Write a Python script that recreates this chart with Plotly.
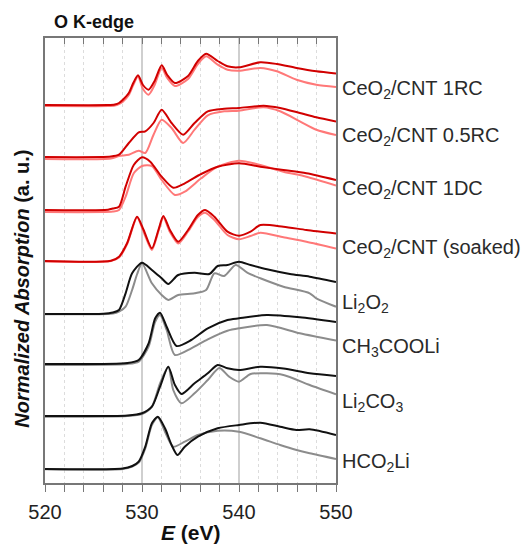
import plotly.graph_objects as go

# ---------------- data (heights above each spectrum's baseline, a.u.) ----------------
LABELS = ["CeO<sub>2</sub>/CNT 1RC", "CeO<sub>2</sub>/CNT 0.5RC", "CeO<sub>2</sub>/CNT 1DC",
          "CeO<sub>2</sub>/CNT (soaked)", "Li<sub>2</sub>O<sub>2</sub>", "CH<sub>3</sub>COOLi",
          "Li<sub>2</sub>CO<sub>3</sub>", "HCO<sub>2</sub>Li"]
OFFSETS = [378, 326, 273, 222, 169, 119, 67, 14]
LABEL_Y = [394, 347, 294, 235, 180, 136, 81, 21]

E_1RC_A = [520, 526.5, 527.2, 527.63, 528.0, 528.64, 529.1, 529.59, 530.1, 530.68, 531.3, 532.03, 532.6,
           533.39, 534.75, 535.76, 536.61, 537.8, 538.81, 540, 542.2, 543.9, 545.93, 547.97, 550]
Y_1RC_A = [0, 0, 0.5, 2, 5, 12, 22, 29.7, 20, 15.3, 24, 39.7, 30,
           22, 29, 44, 51.3, 44, 38.7, 37.7, 42.7, 41, 37, 33.7, 31.5]
Y_1RC_B = [-1, -1, -0.5, 1, 3, 10, 20, 28.5, 16, 10.3, 20, 37, 27,
           19, 26, 41, 48.7, 40.3, 35.3, 34.3, 37, 33.7, 25.3, 20.3, 18]

E_05RC = [520, 526.8, 527.63, 528.64, 529.66, 530.34, 531.19, 532.03, 533.05, 534.24, 535.42, 536.78,
          538.47, 540, 542.54, 544.24, 546.27, 547.97, 550]
Y_05RC_A = [0, 0.5, 2.3, 14, 24.7, 25.7, 34, 47.3, 34, 22.3, 34, 45.7,
            48.3, 49, 51.3, 49, 44, 39.7, 35.5]
Y_05RC_B = [-2, -1.5, 1, 2.3, 6.3, 4, 22.3, 37.3, 29, 14, 27.3, 41.7,
            45.7, 46.3, 49.7, 45.7, 35.7, 27.3, 22]

E_1DC_A = [520, 526.5, 527.0, 527.63, 528.31, 529.15, 530, 530.85, 532.03, 533.22, 534.41, 536.1,
           537.8, 540, 542.2, 544.58, 546.95, 550]
Y_1DC_A = [0, 0.3, 1.5, 3.3, 23.3, 45, 52.7, 48.3, 33.3, 22.3, 26.7, 36,
           43.3, 46.7, 43.3, 40, 36.7, 30]
E_1DC_B = [520, 527.0, 527.63, 528.31, 529.15, 530, 531.02, 532.03, 533.39, 534.41, 536.1,
           537.8, 540, 542.2, 544.58, 546.95, 550]
Y_1DC_B = [-2, -1.5, 0, 13.3, 36.7, 44, 44, 30, 15, 18.3, 31.7,
           43.3, 49.3, 45, 38.3, 33.3, 24.5]

E_SOAK = [520, 526.8, 527.63, 528.47, 529.49, 530.17, 531.02, 531.69, 532.2, 532.88, 533.73, 534.75,
          535.76, 536.51, 537.46, 538.81, 540, 541.19, 542.2, 544.58, 546.95, 550]
Y_SOAK_A = [0, 0.3, 4.3, 18, 44.3, 31, 12.7, 31, 45, 31, 19.3, 31,
            46, 51, 44.3, 29.3, 25.3, 29.3, 36, 34.3, 31, 27.5]
Y_SOAK_B = [-0.5, 0, 3.5, 17, 43.5, 29, 11, 29.5, 43.5, 29, 17.5, 29.5,
            44, 48.3, 41, 26, 21.7, 25, 28.3, 23.7, 19.3, 12.5]

E_LI2O2_A = [520, 526.0, 527.0, 527.63, 528.31, 528.98, 530, 531.02, 532.03, 532.71, 533.73, 535.42,
             536.95, 537.8, 538.81, 540, 541.19, 542.88, 545.25, 547.29, 550]
Y_LI2O2_A = [0, 0.3, 1.5, 4, 20.7, 40.7, 51.3, 44, 35.7, 30, 39, 41.3,
             40, 48, 49, 52.3, 49, 44.7, 40, 37.3, 32]
E_LI2O2_B = [520, 527.0, 527.63, 528.31, 528.98, 529.5, 530, 531.02, 532.03, 532.71, 533.73, 535.42,
             536.61, 537.46, 538.47, 539.66, 540.85, 542.2, 544.58, 547.29, 547.97, 550]
Y_LI2O2_B = [-0.3, 0.5, 2.3, 7.3, 24, 40, 50.7, 30.7, 19, 14, 19, 20.7,
             24, 40.7, 38, 49, 41.3, 35.7, 27.3, 20.7, 15.7, 7.3]

E_ACE_A = [520, 528.5, 529.66, 530.68, 531.36, 531.86, 532.54, 533.56, 535.08, 536.78, 538.81, 540,
           542.88, 546.27, 550]
Y_ACE_A = [0, 1, 4, 20.7, 45.7, 51.3, 37.3, 18, 24, 35.7, 44, 45.7, 49, 46.7, 42]
E_ACE_B = [520, 528.5, 529.66, 530.68, 531.36, 531.86, 532.54, 533.39, 535.08, 536.78, 538.81, 540,
           542.88, 546.27, 550]
Y_ACE_B = [-1, 0, 2.3, 17.3, 42.3, 49, 34, 9, 15.7, 24.7, 33.3, 35.7, 39, 30.7, 23.5]

E_CARB_A = [520, 528.5, 530, 531.02, 531.86, 532.71, 533.39, 534.07, 535.42, 536.78, 537.8, 538.81,
            540, 542.2, 544.58, 547.29, 550]
Y_CARB_A = [0, 0.5, 2.7, 9.3, 29.3, 49.3, 31, 22, 32.7, 42.7, 51, 47.7,
            46, 49.3, 47.5, 42.7, 40]
E_CARB_B = [520, 528.5, 530, 531.02, 531.86, 532.71, 533.22, 534.07, 535.42, 536.78, 537.97, 538.98,
            540, 541.19, 542.88, 544.58, 547.29, 550]
Y_CARB_B = [-0.7, 0, 2, 9.3, 32.7, 49.3, 26, 12.7, 22.7, 36, 48, 39.3,
            34.3, 42, 42.7, 41, 31, 21.7]

E_FORM_A = [520, 528.0, 529.0, 529.66, 530.34, 531.02, 531.63, 532.37, 533.05, 533.66, 534.41, 535.76,
            537.8, 540, 542.2, 544.24, 545.93, 547.29, 550]
Y_FORM_A = [0, 0.5, 3, 7.3, 22.3, 45.7, 52.3, 40.7, 24, 14, 22.3, 32.3,
            40.7, 44, 46.3, 42.3, 39, 39.7, 34]
E_FORM_B = [520, 528.0, 529.0, 529.66, 530.34, 531.02, 531.63, 532.37, 533.22, 534.41, 535.76,
            537.8, 540, 542.2, 544.24, 545.93, 547.29, 550]
Y_FORM_B = [-0.3, 0, 2.5, 6.3, 20.7, 44, 51.7, 37.3, 22.3, 27.3, 34,
            38.3, 37.3, 30.7, 24, 19, 15.7, 10]

DARK_RED, LIGHT_RED, BLACK, GRAY = "#d10000", "#ff7878", "#111111", "#8c8c8c"

SERIES = [
    (E_1RC_A, Y_1RC_B, 0, LIGHT_RED), (E_1RC_A, Y_1RC_A, 0, DARK_RED),
    (E_05RC, Y_05RC_B, 1, LIGHT_RED), (E_05RC, Y_05RC_A, 1, DARK_RED),
    (E_1DC_B, Y_1DC_B, 2, LIGHT_RED), (E_1DC_A, Y_1DC_A, 2, DARK_RED),
    (E_SOAK, Y_SOAK_B, 3, LIGHT_RED), (E_SOAK, Y_SOAK_A, 3, DARK_RED),
    (E_LI2O2_B, Y_LI2O2_B, 4, GRAY), (E_LI2O2_A, Y_LI2O2_A, 4, BLACK),
    (E_ACE_B, Y_ACE_B, 5, GRAY), (E_ACE_A, Y_ACE_A, 5, BLACK),
    (E_CARB_B, Y_CARB_B, 6, GRAY), (E_CARB_A, Y_CARB_A, 6, BLACK),
    (E_FORM_B, Y_FORM_B, 7, GRAY), (E_FORM_A, Y_FORM_A, 7, BLACK),
]

fig = go.Figure()
for ex, ys, idx, col in SERIES:
    off = OFFSETS[idx]
    fig.add_trace(go.Scatter(x=ex, y=[v + off for v in ys], mode="lines",
                             line=dict(color=col, width=2, shape="spline", smoothing=0.7),
                             showlegend=False, hoverinfo="skip"))

# top axis carrier (invisible trace)
fig.add_trace(go.Scatter(x=[520, 550], y=[0, 0], xaxis="x2", mode="lines",
                         line=dict(width=0), showlegend=False, hoverinfo="skip"))

FONT = "Liberation Sans, Arial, sans-serif"
for lab, ly in zip(LABELS, LABEL_Y):
    fig.add_annotation(x=550, y=ly, xref="x", yref="y", text=lab, showarrow=False,
                       xanchor="left", xshift=4, font=dict(size=20, color="#2a2a2a", family=FONT))

fig.add_annotation(x=0.024, y=1.036, xref="paper", yref="paper", text="<b>O K-edge</b>",
                   showarrow=False, xanchor="left", yanchor="middle",
                   font=dict(size=18, color="#111111", family=FONT))
fig.add_annotation(x=-0.082, y=0.437, xref="paper", yref="paper",
                   text="<b><i>Normalized Absorption</i> (a. u.)</b>", textangle=-90,
                   showarrow=False, xanchor="center", yanchor="middle",
                   font=dict(size=20, color="#111111", family=FONT))
fig.add_annotation(x=0.5, y=-0.112, xref="paper", yref="paper",
                   text="<b><i>E</i> (eV)</b>", showarrow=False, xanchor="center", yanchor="middle",
                   font=dict(size=21, color="#111111", family=FONT))

fig.update_layout(
    width=529, height=546,
    margin=dict(l=45, r=193, t=38, b=63, autoexpand=False),
    paper_bgcolor="white", plot_bgcolor="white",
    font=dict(family=FONT, color="#222222"),
    xaxis=dict(range=[520, 550], dtick=10, tick0=520, showline=True, linecolor="#777777", linewidth=1.5,
               ticks="outside", ticklen=7, tickcolor="#777777", tickwidth=1.2, automargin=False,
               tickfont=dict(size=20, color="#222222"), ticklabelstandoff=3,
               showgrid=True, gridcolor="#cfcfcf", gridwidth=1.5, zeroline=False,
               minor=dict(dtick=2, ticks="outside", ticklen=7, tickcolor="#777777",
                          showgrid=True, gridcolor="#dcdcdc", griddash="dot", gridwidth=1)),
    xaxis2=dict(range=[520, 550], overlaying="x", side="top", dtick=2, tick0=520, automargin=False,
                showline=True, linecolor="#777777", linewidth=1.5,
                ticks="inside", ticklen=6, tickcolor="#777777", showticklabels=False,
                showgrid=False, zeroline=False),
    yaxis=dict(range=[0, 445], showticklabels=False, ticks="", showgrid=False, zeroline=False,
               automargin=False, showline=True, linecolor="#777777", linewidth=1.5, mirror=True),
)

# remove the browser's default 8px body margin so the figure fills the window exactly
fig.write_html("out.html", config={"displayModeBar": False},
               post_script="document.body.style.margin='0';document.body.style.overflow='hidden';")
